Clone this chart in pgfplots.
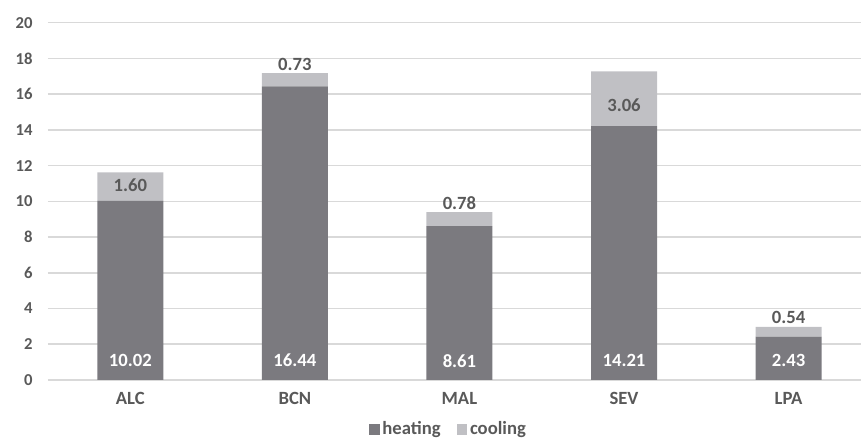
\documentclass[border=0pt]{standalone}
\usepackage{pgfplots}
\pgfplotsset{compat=1.18}
\usepackage{fontspec}
\setmainfont{Carlito}
\definecolor{heat}{RGB}{123,122,127}
\definecolor{cool}{RGB}{192,192,196}
\definecolor{txt}{RGB}{89,89,89}
\definecolor{gridc}{RGB}{217,217,217}
\tikzset{lab/.style={font=\bfseries\fontsize{14}{16}\selectfont}}
\begin{document}
\begin{tikzpicture}
\useasboundingbox (-36pt,-45.75pt) rectangle (609.75pt,285pt);
\begin{axis}[
  at={(0,0)}, anchor=south west,
  scale only axis, width=609.75pt, height=268pt,
  ybar stacked, bar width=49.5pt,
  xmin=-0.5, xmax=4.44, ymin=0, ymax=20,
  ytick={0,2,...,20},
  xtick={0,1,2,3,4}, xticklabels={ALC,BCN,MAL,SEV,LPA},
  axis line style={draw=none},
  ymajorgrids, grid style={gridc, line width=1.2pt},
  major tick length=0pt,
  /pgf/number format/assume math mode=true,
  tick label style={text=txt},
  yticklabel style={font=\bfseries\fontsize{12.5}{14}\selectfont, xshift=-8pt},
  xticklabel style={font=\bfseries\fontsize{14}{16}\selectfont, yshift=-6pt},
  clip=false,
  legend columns=2,
  legend style={at={(0.493,-0.138)}, anchor=center, draw=none, fill=none,
    inner sep=1pt,
    font=\bfseries\fontsize{14}{16}\selectfont\color{txt},
    /tikz/every even column/.append style={column sep=10pt}},
  legend image code/.code={\fill[#1] (0pt,-4pt) rectangle (8pt,4pt);},
]
\addplot[fill=heat, draw=none] coordinates {(0,10.02) (1,16.44) (2,8.61) (3,14.21) (4,2.43)};
\addlegendentry{heating}
\addplot[fill=cool, draw=none] coordinates {(0,1.60) (1,0.73) (2,0.78) (3,3.06) (4,0.54)};
\addlegendentry{cooling}
\coordinate (h0) at (axis cs:0,0);
\coordinate (h1) at (axis cs:1,0);
\coordinate (h2) at (axis cs:2,0);
\coordinate (h3) at (axis cs:3,0);
\coordinate (h4) at (axis cs:4,0);
\coordinate (c0) at (axis cs:0,10.9);
\coordinate (c3) at (axis cs:3,15.4);
\coordinate (t1) at (axis cs:1,17.17);
\coordinate (t2) at (axis cs:2,9.39);
\coordinate (t4) at (axis cs:4,2.97);
\end{axis}
\node[lab, text=white, anchor=center, yshift=14.5pt] at (h0) {10.02};
\node[lab, text=white, anchor=center, yshift=14.5pt] at (h1) {16.44};
\node[lab, text=white, anchor=center, yshift=14.5pt] at (h2) {8.61};
\node[lab, text=white, anchor=center, yshift=14.5pt] at (h3) {14.21};
\node[lab, text=white, anchor=center, yshift=14.5pt] at (h4) {2.43};
\node[lab, text=txt, anchor=center] at (c0) {1.60};
\node[lab, text=txt, anchor=center] at (c3) {3.06};
\node[lab, text=txt, anchor=south, inner sep=1pt, yshift=1pt] at (t1) {0.73};
\node[lab, text=txt, anchor=south, inner sep=1pt, yshift=1pt] at (t2) {0.78};
\node[lab, text=txt, anchor=south, inner sep=1pt, yshift=1pt] at (t4) {0.54};
\end{tikzpicture}
\end{document}
